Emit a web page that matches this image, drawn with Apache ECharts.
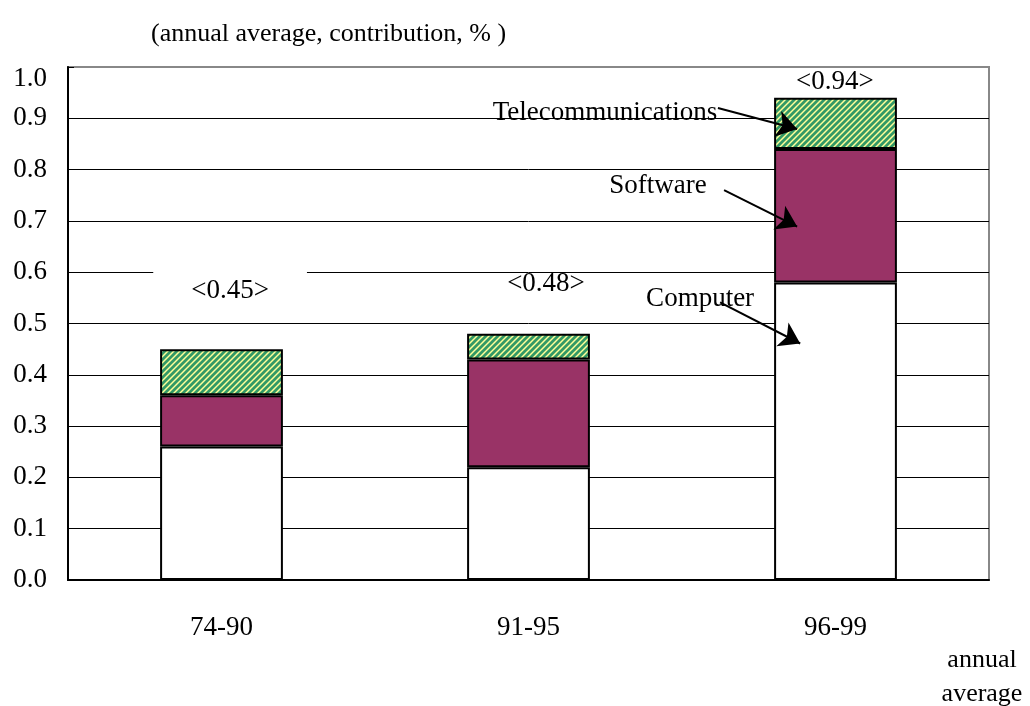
<!DOCTYPE html>
<html>
<head>
<meta charset="utf-8">
<script src="https://cdn.jsdelivr.net/npm/echarts@6/dist/echarts.min.js"></script>
<style>
  html, body { margin: 0; padding: 0; background: #fff; }
  #chart { width: 1030px; height: 706px; }
</style>
</head>
<body>
<div id="chart"></div>
<script>
const periods = ['74-90', '91-95', '96-99'];
const computer = [0.26, 0.22, 0.58];
const software = [0.10, 0.21, 0.26];
const telecom = [0.09, 0.05, 0.10];
const yTicks = [0, 0.1, 0.2, 0.3, 0.4, 0.5, 0.6, 0.7, 0.8, 0.9, 1.0];

// where the <total> labels and the arrow notes sit, in axis units
const totalSpots = [[0.028, 0.564], [1.057, 0.578], [1.998, 0.971]];
const noteNames = ['Telecommunications', 'Software', 'Computer'];
const noteSpots = [[1.249, 0.910], [1.422, 0.768], [1.559, 0.547]];
const arrowFrom = [[1.617, 0.920], [1.637, 0.760], [1.624, 0.541]];
const arrowTo = [[1.875, 0.879], [1.875, 0.689], [1.885, 0.461]];

const font = 'Liberation Serif';
const chartDom = document.getElementById('chart');
const myChart = echarts.init(chartDom);

// green / pale yellow diagonal hatch
function hatch() {
  const c = document.createElement('canvas');
  c.width = 6;
  c.height = 6;
  const ctx = c.getContext('2d');
  ctx.fillStyle = '#ffff99';
  ctx.fillRect(0, 0, 6, 6);
  ctx.strokeStyle = '#339966';
  ctx.lineWidth = 2.8;
  ctx.beginPath();
  ctx.moveTo(-1, 7); ctx.lineTo(7, -1);
  ctx.moveTo(-4, 4); ctx.lineTo(4, -4);
  ctx.moveTo(2, 10); ctx.lineTo(10, 2);
  ctx.stroke();
  return c;
}

const totals = periods.map((p, i) => +(computer[i] + software[i] + telecom[i]).toFixed(2));

const totalData = totals.map((t, i) => ({
  name: '<' + t + '>',
  value: totalSpots[i],
  label: i === 0 ? { backgroundColor: '#fff', padding: [14, 38, 4, 38] } : {}
}));
const noteData = noteNames.map((n, i) => ({ name: n, value: noteSpots[i] }));
const arrows = arrowFrom.map((a, i) => [{ coord: a }, { coord: arrowTo[i] }]);

const barBorder = { borderColor: '#000', borderWidth: 2 };
const textLabel = {
  show: true, position: 'inside', formatter: '{b}',
  fontFamily: font, fontSize: 27, color: '#000', textBorderWidth: 0
};

let option = {
  animation: false,
  backgroundColor: '#fff',
  title: {
    text: '(annual average, contribution, % )',
    left: 146,
    top: 16,
    textStyle: { fontFamily: font, fontSize: 26, fontWeight: 'normal', color: '#000' }
  },
  graphic: [{
    type: 'text',
    x: 982,
    y: 643,
    style: {
      text: 'annual\naverage',
      textAlign: 'center',
      fontFamily: font,
      fontSize: 26,
      lineHeight: 34,
      fill: '#000'
    }
  }],
  grid: {
    left: 68, right: 41, top: 67, bottom: 126,
    show: true, borderColor: '#888', borderWidth: 2
  },
  xAxis: [{
    type: 'category',
    data: periods,
    axisLine: { lineStyle: { color: '#000', width: 2 } },
    axisTick: { inside: true, length: 8, lineStyle: { color: '#000' } },
    axisLabel: { margin: 34, fontFamily: font, fontSize: 27, color: '#000' }
  }, {
    type: 'value',
    min: -0.5,
    max: 2.5,
    show: false
  }],
  yAxis: {
    type: 'value',
    min: 0,
    max: 1,
    interval: 0.1,
    axisLine: { show: true, onZero: false, lineStyle: { color: '#000', width: 2 } },
    axisTick: { show: true, inside: true, length: 6, lineStyle: { color: '#000' } },
    axisLabel: {
      margin: 21, fontFamily: font, fontSize: 27, color: '#000',
      formatter: (v) => {
        const t = +v.toFixed(1);
        if (!yTicks.includes(t)) return '';
        return t === 1 ? '{top|' + t.toFixed(1) + '}' : t.toFixed(1);
      },
      rich: { top: { fontFamily: font, fontSize: 27, color: '#000', padding: [24, 0, 0, 0] } }
    },
    splitLine: { showMaxLine: false, lineStyle: { color: '#000', width: 1 } }
  },
  series: [
    {
      name: 'Computer', type: 'bar', stack: 'total', data: computer,
      barWidth: '40%', itemStyle: Object.assign({ color: '#fff' }, barBorder)
    },
    {
      name: 'Software', type: 'bar', stack: 'total', data: software,
      barWidth: '40%', itemStyle: Object.assign({ color: '#993366' }, barBorder)
    },
    {
      name: 'Telecommunications', type: 'bar', stack: 'total', data: telecom,
      barWidth: '40%', itemStyle: Object.assign({ color: { image: hatch(), repeat: 'repeat' } }, barBorder)
    },
    {
      type: 'scatter', xAxisIndex: 1, data: totalData, symbolSize: 0, silent: true,
      itemStyle: { color: '#000', opacity: 1 }, z: 5, label: textLabel
    },
    {
      type: 'scatter', xAxisIndex: 1, data: noteData, symbolSize: 0, silent: true,
      itemStyle: { color: '#000', opacity: 1 }, z: 6, label: textLabel,
      markLine: {
        silent: true,
        symbol: ['none', 'arrow'],
        symbolSize: 20,
        label: { show: false },
        lineStyle: { color: '#000', width: 2, type: 'solid' },
        data: arrows
      }
    }
  ]
};

option && myChart.setOption(option);
</script>
</body>
</html>
